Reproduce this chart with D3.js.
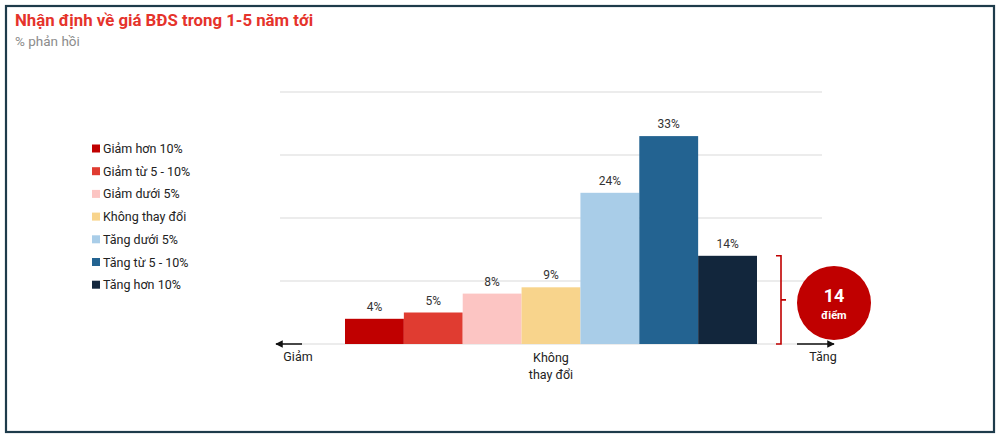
<!DOCTYPE html>
<html><head><meta charset="utf-8">
<script src="https://cdn.jsdelivr.net/npm/d3@7"></script>
<style>
html,body{margin:0;padding:0;background:#fff;}
svg{display:block;font-family:Roboto,"Noto Sans",sans-serif;}
</style></head>
<body>
<svg id="c" width="1000" height="437"></svg>
<script>
const categories = ["Giảm hơn 10%","Giảm từ 5 - 10%","Giảm dưới 5%","Không thay đổi","Tăng dưới 5%","Tăng từ 5 - 10%","Tăng hơn 10%"];
const values = [4,5,8,9,24,33,14];
const colors = ["#c00000","#e03c31","#fcc5c3","#f8d48c","#a9cde8","#236391","#12263c"];
const gridTicks = [0,10,20,30,40];
const title = "Nhận định về giá BĐS trong 1-5 năm tới";
const subtitle = "% phản hồi";
const diffValue = 14;

const svg = d3.select("#c");
svg.append("rect").attr("x",6).attr("y",6).attr("width",988).attr("height",426)
  .attr("fill","#fff").attr("stroke","#1e3b4b").attr("stroke-width",2.2);

svg.append("text").attr("x",15).attr("y",26).attr("fill","#e5332b")
  .attr("font-size",16.8).attr("font-weight",700).text(title);
svg.append("text").attr("x",15).attr("y",46).attr("fill","#8c8c8c")
  .attr("font-size",13.5).text(subtitle);

const y = d3.scaleLinear().domain([0,40]).range([344,92]);
const x = d3.scaleBand().domain(categories).range([345,757]).padding(0);

// gridlines
svg.append("g").selectAll("line").data(gridTicks).join("line")
  .attr("x1",280).attr("x2",822).attr("y1",d=>y(d)).attr("y2",d=>y(d))
  .attr("stroke","#e6e6e6").attr("stroke-width",1.5);

// bars
svg.append("g").selectAll("rect").data(values).join("rect")
  .attr("x",(d,i)=>x(categories[i])).attr("width",x.bandwidth())
  .attr("y",d=>y(d)).attr("height",d=>y(0)-y(d))
  .attr("fill",(d,i)=>colors[i]);

svg.append("g").selectAll("text").data(values).join("text")
  .attr("x",(d,i)=>x(categories[i])+x.bandwidth()/2).attr("y",d=>y(d)-8)
  .attr("text-anchor","middle").attr("font-size",12).attr("fill","#333")
  .text(d=>d+"%");

// arrows
const defs = svg.append("defs");
defs.append("marker").attr("id","ah").attr("viewBox","0 0 10 10").attr("refX",9).attr("refY",5)
  .attr("markerWidth",6).attr("markerHeight",5).attr("orient","auto-start-reverse")
  .append("path").attr("d","M0,0L10,5L0,10Z").attr("fill","#111");
svg.append("line").attr("x1",302).attr("x2",276).attr("y1",y(0)).attr("y2",y(0))
  .attr("stroke","#111").attr("stroke-width",1.5).attr("marker-end","url(#ah)");
svg.append("line").attr("x1",797).attr("x2",834).attr("y1",y(0)).attr("y2",y(0))
  .attr("stroke","#111").attr("stroke-width",1.5).attr("marker-end","url(#ah)");

svg.append("text").attr("x",298).attr("y",361).attr("text-anchor","middle")
  .attr("font-size",12.5).attr("fill","#222").text("Giảm");
svg.append("text").attr("x",823).attr("y",361).attr("text-anchor","middle")
  .attr("font-size",12.5).attr("fill","#222").text("Tăng");
const kt = svg.append("text").attr("text-anchor","middle").attr("font-size",12.5).attr("fill","#222");
kt.append("tspan").attr("x",551).attr("y",362).text("Không");
kt.append("tspan").attr("x",551).attr("y",379).text("thay đổi");

// bracket
const bTop = y(values[6]), bBot = y(0), bx = 781, bMid = (bTop+bBot)/2 ;
svg.append("path")
  .attr("d",`M${bx-5},${bTop}H${bx}V${bBot}H${bx-5}M${bx},${bMid}H${bx+5}`)
  .attr("fill","none").attr("stroke","#c00000").attr("stroke-width",1.6);

svg.append("circle").attr("cx",834).attr("cy",303).attr("r",37).attr("fill","#c00000");
svg.append("text").attr("x",834).attr("y",302).attr("text-anchor","middle")
  .attr("font-size",18).attr("font-weight",700).attr("fill","#fff").text(diffValue);
svg.append("text").attr("x",834).attr("y",319).attr("text-anchor","middle")
  .attr("font-size",11).attr("font-weight",700).attr("fill","#fff").text("điểm");

// legend
const lg = svg.append("g").selectAll("g").data(categories).join("g")
  .attr("transform",(d,i)=>`translate(92,${149+i*22.7})`);
lg.append("rect").attr("x",0).attr("y",-4.5).attr("width",8).attr("height",8).attr("fill",(d,i)=>colors[i]);
lg.append("text").attr("x",11).attr("y",4).attr("font-size",12.5).attr("fill","#222").text(d=>d);
</script>
</body></html>
